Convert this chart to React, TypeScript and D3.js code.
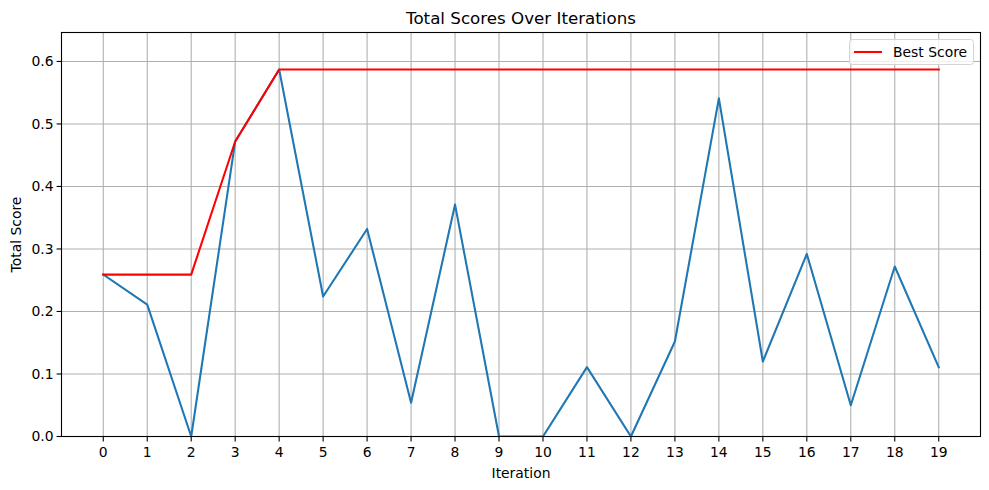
import React from "react";
import * as d3 from "d3";

const iterations = [0, 1, 2, 3, 4, 5, 6, 7, 8, 9, 10, 11, 12, 13, 14, 15, 16, 17, 18, 19];
const totalScores = [0.259, 0.211, 0.0, 0.472, 0.587, 0.224, 0.332, 0.054, 0.371, 0.0, 0.0, 0.111, 0.0, 0.152, 0.541, 0.120, 0.292, 0.050, 0.272, 0.111];
const bestScores = [0.259, 0.259, 0.259, 0.472, 0.587, 0.587, 0.587, 0.587, 0.587, 0.587, 0.587, 0.587, 0.587, 0.587, 0.587, 0.587, 0.587, 0.587, 0.587, 0.587];
const yTicks = [0.0, 0.1, 0.2, 0.3, 0.4, 0.5, 0.6];

const W = 989;
const H = 490;
const M = { left: 61.5, right: 980.5, top: 32.5, bottom: 436.5 };
const FONT = "'DejaVu Sans', sans-serif";

export default function App() {
  const x = d3.scaleLinear().domain([-0.95, 19.95]).range([M.left, M.right]);
  const y = d3.scaleLinear().domain([0, 0.6463]).range([M.bottom, M.top]);
  const line = d3
    .line<number>()
    .x((_, i) => x(iterations[i]))
    .y((d) => y(d));

  return (
    <svg width={W} height={H} style={{ position: "absolute", left: 0, top: 0, background: "#fff" }} fontFamily={FONT}>
      <defs>
        <clipPath id="plot">
          <rect x={M.left} y={M.top} width={M.right - M.left} height={M.bottom - M.top} />
        </clipPath>
      </defs>
      {/* grid */}
      <g stroke="#b0b0b0" strokeWidth={1.1}>
        {iterations.map((t) => (
          <line key={"gx" + t} x1={x(t)} x2={x(t)} y1={M.top} y2={M.bottom} />
        ))}
        {yTicks.map((t) => (
          <line key={"gy" + t} x1={M.left} x2={M.right} y1={y(t)} y2={y(t)} />
        ))}
      </g>
      {/* lines */}
      <g clipPath="url(#plot)" fill="none" strokeWidth={2.08} strokeLinejoin="round" strokeLinecap="square">
        <path d={line(totalScores) ?? ""} stroke="#1f77b4" />
        <path d={line(bestScores) ?? ""} stroke="#ff0000" />
      </g>
      {/* frame */}
      <rect x={M.left} y={M.top} width={M.right - M.left} height={M.bottom - M.top} fill="none" stroke="#000" strokeWidth={1.1} />
      {/* x ticks */}
      <g fontSize={13.9} fill="#000">
        {iterations.map((t) => (
          <g key={"xt" + t}>
            <line x1={x(t)} x2={x(t)} y1={M.bottom} y2={M.bottom + 4.9} stroke="#000" strokeWidth={1.1} />
            <text x={x(t)} y={M.bottom + 20.8} textAnchor="middle">
              {t}
            </text>
          </g>
        ))}
        {yTicks.map((t) => (
          <g key={"yt" + t}>
            <line x1={M.left - 4.9} x2={M.left} y1={y(t)} y2={y(t)} stroke="#000" strokeWidth={1.1} />
            <text x={M.left - 8} y={y(t)} dy="0.35em" textAnchor="end">
              {t.toFixed(1)}
            </text>
          </g>
        ))}
      </g>
      {/* labels */}
      <text x={(M.left + M.right) / 2} y={477.5} textAnchor="middle" fontSize={13.9}>
        Iteration
      </text>
      <text transform={`translate(21,${(M.top + M.bottom) / 2}) rotate(-90)`} textAnchor="middle" fontSize={13.9}>
        Total Score
      </text>
      <text x={(M.left + M.right) / 2} y={24} textAnchor="middle" fontSize={16.7}>
        Total Scores Over Iterations
      </text>
      {/* legend */}
      <g>
        <rect x={849.5} y={39.5} width={124} height={25} rx={3} fill="#fff" fillOpacity={0.8} stroke="#d5d5d5" strokeWidth={1} />
        <line x1={854} x2={882} y1={52} y2={52} stroke="#ff0000" strokeWidth={2.08} />
        <text x={893} y={52} dy="0.35em" fontSize={13.9}>
          Best Score
        </text>
      </g>
    </svg>
  );
}
